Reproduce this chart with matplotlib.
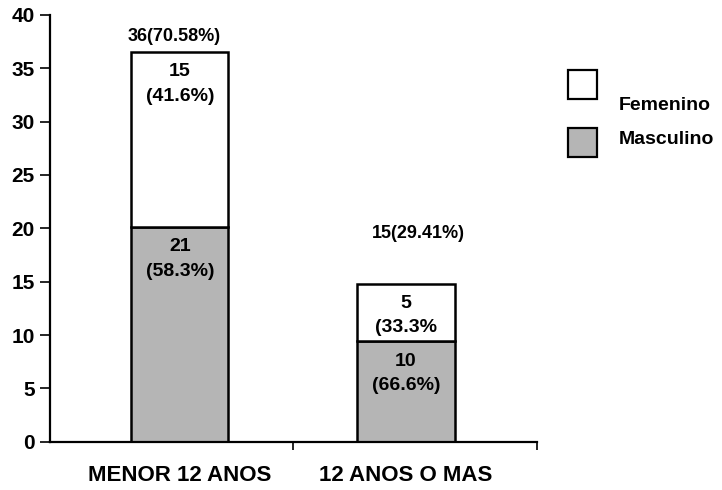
import matplotlib
matplotlib.use("Agg")
import matplotlib.pyplot as plt
from matplotlib.patches import Rectangle

categories = ["MENOR 12 ANOS", "12 ANOS O MAS"]
# bar heights as drawn in the picture
masculino = [20.1, 9.4]
femenino = [16.4, 5.4]
masc_labels = ["21\n(58.3%)", "10\n(66.6%)"]
fem_labels = ["15\n(41.6%)", "5\n(33.3%"]
total_labels = ["36(70.58%)", "15(29.41%)"]
series_names = ["Femenino", "Masculino"]
yticks = [0, 5, 10, 15, 20, 25, 30, 35, 40]

plt.rcParams['font.family'] = ['Liberation Sans', 'DejaVu Sans']

fig = plt.figure(figsize=(7.22, 4.90), dpi=100)
ax = fig.add_axes([0.069, 0.0985, 0.675, 0.871])

x = list(range(len(categories)))
gray = '#b5b5b5'
tops = [m + f for m, f in zip(masculino, femenino)]
ax.bar(x, masculino, width=0.43, color=gray, edgecolor='black', linewidth=1.8)
ax.bar(x, femenino, width=0.43, bottom=masculino, color='white', edgecolor='black', linewidth=1.8)

for i in x:
    ax.annotate(masc_labels[i], (i, masculino[i]), xytext=(0, -8), textcoords='offset points',
                ha='center', va='top', fontsize=14, fontweight='bold', linespacing=1.55)
    ax.annotate(fem_labels[i], (i, tops[i]), xytext=(0, -8), textcoords='offset points',
                ha='center', va='top', fontsize=14, fontweight='bold', linespacing=1.55)

offsets = [(-4, 5), (9, 30)]
for i in x:
    ax.annotate(total_labels[i], (i, tops[i]), xytext=offsets[i], textcoords='offset points',
                ha='center', va='bottom', fontsize=13, fontweight='bold')

ax.set_xlim(-0.575, 1.58)
ax.set_ylim(0, 40)
ax.set_yticks(yticks)
ax.set_yticklabels([str(v) for v in yticks], fontsize=15, fontweight='bold')
ax.set_xticks(x)
ax.set_xticklabels(categories, fontsize=16, fontweight='bold')
ax.tick_params(axis='x', length=0, pad=17)
ax.set_xticks([0.5, 1.58], minor=True)
ax.tick_params(axis='x', which='minor', length=6, width=1.2, direction='out')
ax.tick_params(axis='y', length=7, width=1.2, direction='out', pad=4)
for s in ['top', 'right']:
    ax.spines[s].set_visible(False)
for s in ['left', 'bottom']:
    ax.spines[s].set_linewidth(1.6)

# legend drawn manually (figure coordinates)
W, H = 722.0, 490.0
sq = [(568, 70), (568, 128)]
txt_y = [105, 140]
colors = ['white', gray]
for (px, py), ty, c, name in zip(sq, txt_y, colors, series_names):
    fig.add_artist(Rectangle((px / W, 1 - (py + 29) / H), 29 / W, 29 / H, transform=fig.transFigure,
                             facecolor=c, edgecolor='black', linewidth=1.6))
    fig.text(619 / W, 1 - ty / H, name, ha='left', va='center', fontsize=14, fontweight='bold')

fig.savefig('out.png', dpi=100)
